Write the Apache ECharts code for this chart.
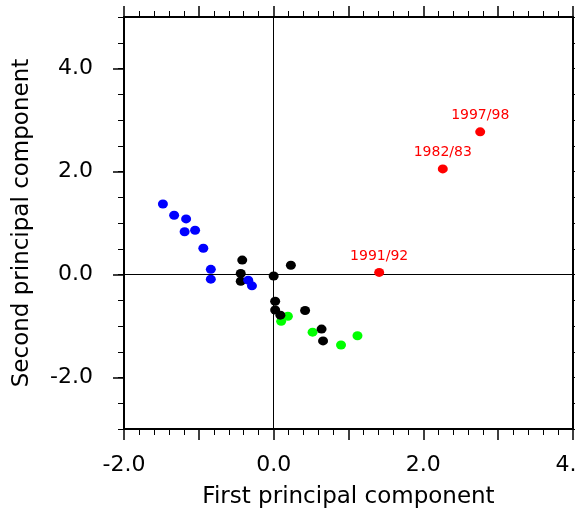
<!DOCTYPE html>
<html>
<head>
<meta charset="utf-8">
<script src="https://cdn.jsdelivr.net/npm/echarts@6/dist/echarts.min.js"></script>
<style>
  html, body { margin: 0; padding: 0; background: #fff; }
  #main { width: 575px; height: 512px; }
</style>
</head>
<body>
<div id="main"></div>
<script>
// principal components
var blueX = [-1.48, -1.33, -1.17, -1.19, -1.05, -0.94, -0.84, -0.84, -0.34, -0.29];
var blueY = [1.37, 1.15, 1.08, 0.83, 0.86, 0.51, 0.10, -0.09, -0.11, -0.22];
var blackX = [-0.42, -0.44, -0.44, 0.00, 0.23, 0.02, 0.02, 0.09, 0.42, 0.64, 0.66];
var blackY = [0.28, 0.02, -0.13, -0.03, 0.18, -0.52, -0.69, -0.79, -0.70, -1.06, -1.29];
var greenX = [0.19, 0.10, 0.52, 0.90, 1.12];
var greenY = [-0.81, -0.91, -1.12, -1.37, -1.19];
var redX = [2.76, 2.26, 1.41];
var redY = [2.77, 2.05, 0.04];
var redNames = ['1997/98', '1982/83', '1991/92'];
var yMajorTicks = [-2, 0, 2, 4];

var font = 'DejaVu Sans';

function pairs(xs, ys) {
  return xs.map(function (x, i) { return [x, ys[i]]; });
}

function evenLabel(v) {
  return Math.abs(v % 2) < 1e-9 ? v.toFixed(1) : '';
}

var chart = echarts.init(document.getElementById('main'));

var xBase = {
  type: 'value',
  min: -2,
  max: 4,
  interval: 1,
  splitLine: { show: false },
  axisLine: { onZero: false, lineStyle: { color: '#000', width: 2 } },
  axisTick: { length: 11, lineStyle: { color: '#000', width: 1.5 } },
  minorTick: { show: true, splitNumber: 5, length: 6, lineStyle: { color: '#000', width: 1 } }
};

chart.setOption({
  backgroundColor: '#ffffff',
  animation: false,
  grid: { left: 124, right: 2, top: 17, bottom: 83, containLabel: false, outerBoundsMode: 'none' },
  xAxis: [
    Object.assign({}, xBase, {
      position: 'bottom',
      name: 'First principal component',
      nameLocation: 'middle',
      nameGap: 57,
      nameTextStyle: { fontFamily: font, fontSize: 23, color: '#000' },
      axisLabel: { formatter: evenLabel, fontFamily: font, fontSize: 22, color: '#000', margin: 25 }
    }),
    Object.assign({}, xBase, {
      position: 'top',
      axisLabel: { show: false }
    })
  ],
  yAxis: [
    {
      type: 'value',
      position: 'left',
      min: -3,
      max: 5,
      interval: 0.5,
      splitLine: { show: false },
      axisLine: { onZero: false, lineStyle: { color: '#000', width: 2 } },
      axisTick: { length: 6, lineStyle: { color: '#000', width: 1 } },
      axisLabel: { formatter: evenLabel, fontFamily: font, fontSize: 22, color: '#000', margin: 31 },
      name: 'Second principal component',
      nameLocation: 'middle',
      nameGap: 90,
      nameTextStyle: { fontFamily: font, fontSize: 23, color: '#000' }
    },
    {
      // longer ticks at the labelled values
      type: 'value',
      position: 'left',
      min: -3,
      max: 5,
      splitLine: { show: false },
      axisLine: { show: false, onZero: false },
      axisTick: { customValues: yMajorTicks, length: 11, lineStyle: { color: '#000', width: 1.5 } },
      axisLabel: { show: false }
    },
    {
      type: 'value',
      position: 'right',
      min: -3,
      max: 5,
      interval: 0.5,
      splitLine: { show: false },
      axisLine: { onZero: false, lineStyle: { color: '#000', width: 2 } },
      axisTick: { length: 6, lineStyle: { color: '#000', width: 1 } },
      axisLabel: { show: false }
    }
  ],
  series: [
    {
      type: 'scatter',
      symbolSize: [10, 9],
      itemStyle: { color: '#00ff00', opacity: 1 },
      data: pairs(greenX, greenY),
      markLine: {
        silent: true,
        symbol: 'none',
        label: { show: false },
        lineStyle: { color: '#000', width: 1, type: 'solid' },
        data: [{ xAxis: 0 }, { yAxis: 0 }]
      },
      z: 2
    },
    {
      type: 'scatter',
      symbolSize: [10, 9],
      itemStyle: { color: '#000000', opacity: 1 },
      data: pairs(blackX, blackY),
      z: 3
    },
    {
      type: 'scatter',
      symbolSize: [10, 9],
      itemStyle: { color: '#0000ff', opacity: 1 },
      data: pairs(blueX, blueY),
      z: 4
    },
    {
      type: 'scatter',
      symbolSize: [10, 9],
      itemStyle: { color: '#ff0000', opacity: 1 },
      data: redX.map(function (x, i) { return { value: [x, redY[i]], name: redNames[i] }; }),
      label: {
        show: true,
        position: 'top',
        distance: 5,
        formatter: '{b}',
        fontFamily: font,
        fontSize: 14,
        color: '#ff0000'
      },
      z: 5
    }
  ]
});
</script>
</body>
</html>
